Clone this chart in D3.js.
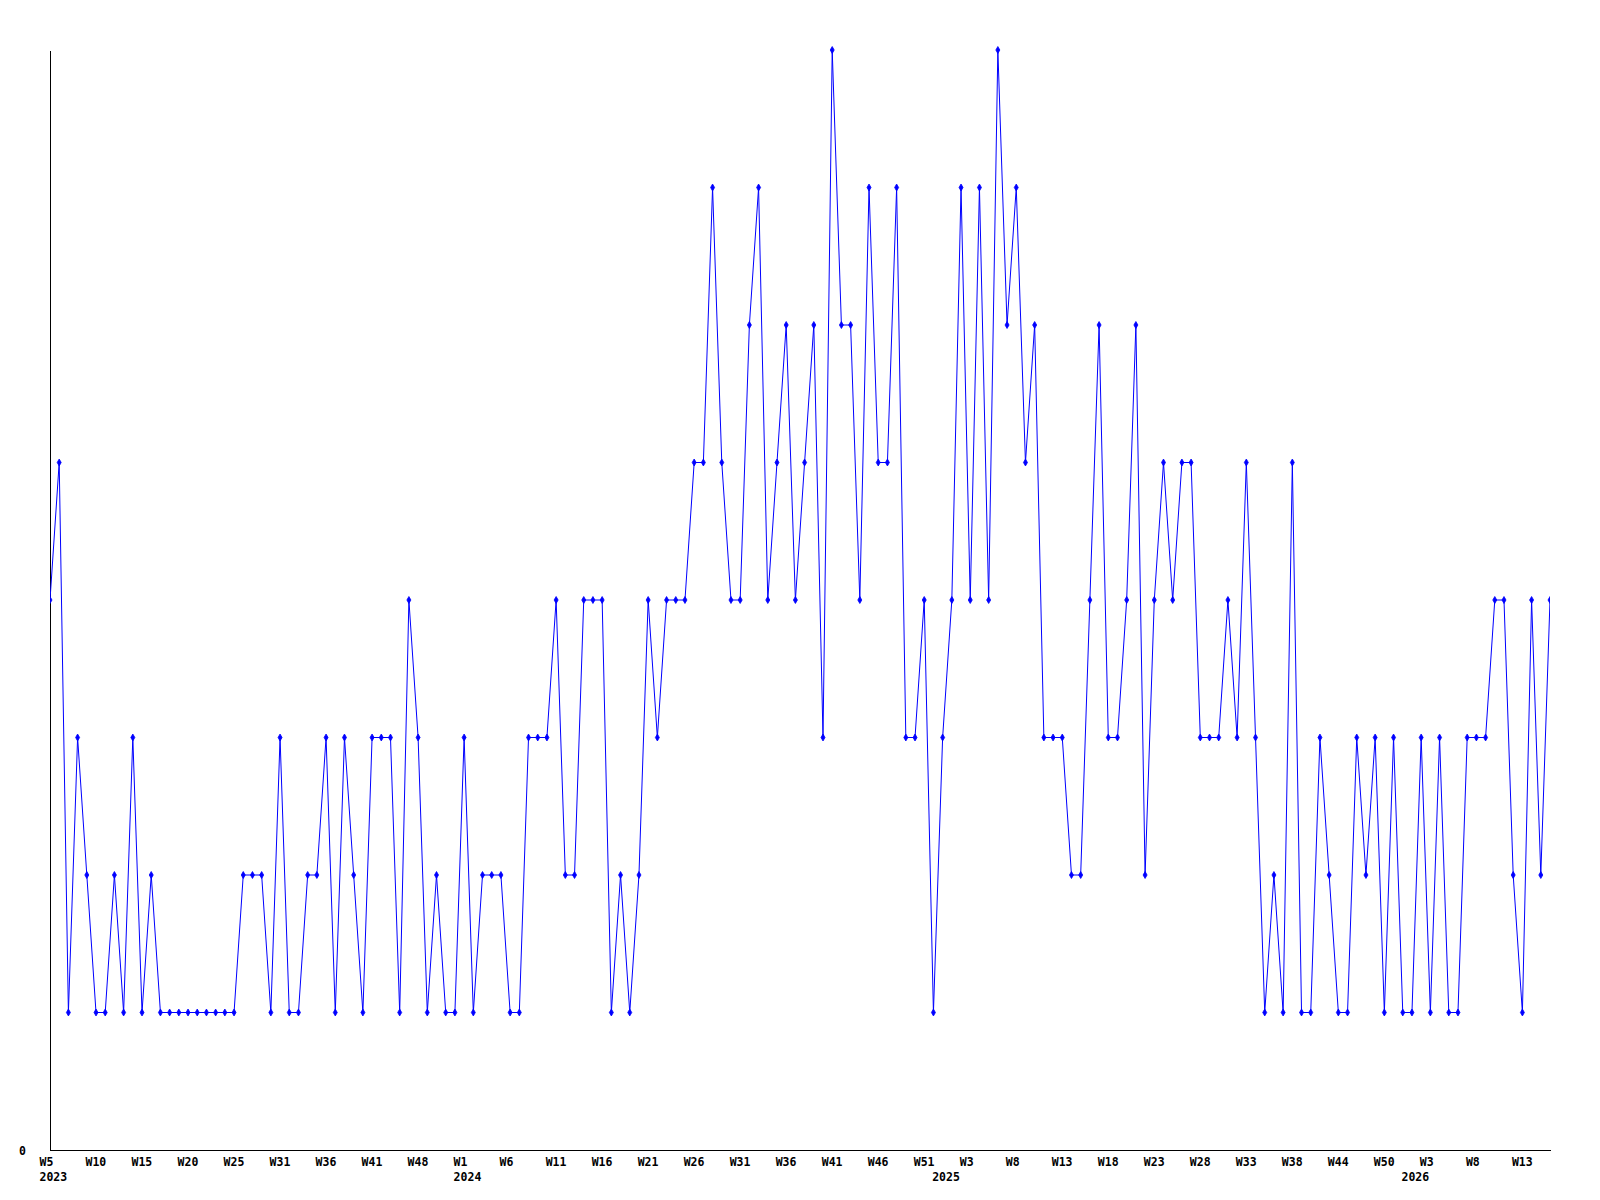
<!DOCTYPE html>
<html>
<head>
<meta charset="utf-8">
<script src="https://cdn.jsdelivr.net/npm/d3@7"></script>
<style>
  html, body { margin: 0; padding: 0; background: #ffffff; }
  svg { display: block; }
  .tick text { font-family: "DejaVu Sans Mono", monospace; font-weight: bold; font-size: 11.5px; fill: #000; }
</style>
</head>
<body>
<svg id="chart" width="1600" height="1200"></svg>
<script>
// Weekly counts, one value per plotted week (starting 2023 W5)
const values = [
  4,5,1,3,2,1,1,2,1,3,
  1,2,1,1,1,1,1,1,1,1,
  1,2,2,2,1,3,1,1,2,2,
  3,1,3,2,1,3,3,3,1,4,
  3,1,2,1,1,3,1,2,2,2,
  1,1,3,3,3,4,2,2,4,4,
  4,1,2,1,2,4,3,4,4,4,
  5,5,7,5,4,4,6,7,4,5,
  6,4,5,6,3,8,6,6,4,7,
  5,5,7,3,3,4,1,3,4,7,
  4,7,4,8,6,7,5,6,3,3,
  3,2,2,4,6,3,3,4,6,2,
  4,5,4,5,5,3,3,3,4,3,
  5,3,1,2,1,5,1,1,3,2,
  1,1,3,2,3,1,3,1,1,3,
  1,3,1,1,3,3,3,4,4,2,
  1,4,2,4
];

// Week tick labels: one every 5 points
const tickWeeks = [
  "W5","W10","W15","W20","W25","W31","W36","W41","W48",
  "W1","W6","W11","W16","W21","W26","W31","W36","W41","W46","W51",
  "W3","W8","W13","W18","W23","W28","W33","W38","W44","W50",
  "W3","W8","W13"
];
// Year labels and the point index where each year starts
const yearLabels = ["2023", "2024", "2025", "2026"];
const yearIndex = [0, 45, 97, 148];

const yTickValues = [0];
const yMax = 8;

(function () {
const svg = d3.select("#chart");
const mLeft = 50, mRight = 1550, mTop = 50, mBottom = 1150;

const x = d3.scaleLinear().domain([0, values.length - 1]).range([mLeft, mRight]);
const y = d3.scaleLinear().domain([0, yMax]).range([mBottom, mTop]);

const tickIdx = tickWeeks.map((_, i) => i * 5);

// X axis (week labels)
const xAxis = d3.axisBottom(x)
  .tickValues(tickIdx)
  .tickSize(0)
  .tickSizeOuter(0)
  .tickPadding(0)
  .tickFormat((d, i) => tickWeeks[i]);

const gx = svg.append("g")
  .attr("transform", `translate(0,${mBottom})`)
  .call(xAxis);
gx.select(".domain").attr("stroke", "#000").attr("stroke-width", 1).attr("shape-rendering", "crispEdges");
gx.selectAll(".tick text")
  .attr("text-anchor", "start")
  .attr("x", -11)
  .attr("dy", null)
  .attr("y", 16);

// Year labels (second row)
const yearAxis = d3.axisBottom(x)
  .tickValues(yearIndex)
  .tickSize(0)
  .tickSizeOuter(0)
  .tickPadding(0)
  .tickFormat((d, i) => yearLabels[i]);
const gyear = svg.append("g")
  .attr("transform", `translate(0,${mBottom})`)
  .call(yearAxis);
gyear.select(".domain").remove();
gyear.selectAll(".tick text")
  .attr("text-anchor", "start")
  .attr("x", -11)
  .attr("dy", null)
  .attr("y", 31);

// Y axis
const yAxis = d3.axisLeft(y)
  .tickValues(yTickValues)
  .tickSize(0)
  .tickSizeOuter(0)
  .tickPadding(24)
  .tickFormat(d3.format("d"));
const gy = svg.append("g")
  .attr("transform", `translate(${mLeft},0)`)
  .call(yAxis);
gy.select(".domain").attr("stroke", "#000").attr("stroke-width", 1).attr("shape-rendering", "crispEdges");
gy.selectAll(".tick text").attr("dy", "0.36em");

// Clip to plot area
svg.append("clipPath").attr("id", "plotclip")
  .append("rect").attr("x", mLeft).attr("y", mTop - 5).attr("width", mRight - mLeft).attr("height", mBottom - mTop + 10);

const plot = svg.append("g").attr("clip-path", "url(#plotclip)");

const line = d3.line()
  .x((d, i) => x(i))
  .y(d => y(d));

plot.append("path")
  .datum(values)
  .attr("fill", "none")
  .attr("stroke", "#0000ff")
  .attr("stroke-width", 1)
  .attr("d", line);

const marker = d3.symbol().type(d3.symbolDiamond).size(14);
plot.selectAll(".pt")
  .data(values)
  .join("path")
  .attr("class", "pt")
  .attr("transform", (d, i) => `translate(${x(i)},${y(d)})`)
  .attr("d", marker)
  .attr("fill", "#0000ff")
  .attr("stroke", "#0000ff")
  .attr("stroke-width", 0.8);
})();
</script>
</body>
</html>
